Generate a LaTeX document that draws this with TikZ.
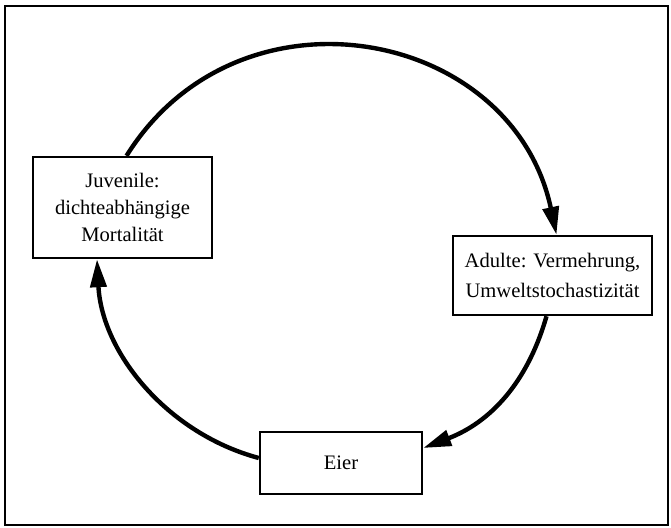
\documentclass[tikz,border=0pt]{standalone}
\usepackage{fontspec}
\setmainfont{Liberation Serif}
\usepackage{tikz}
\usetikzlibrary{arrows.meta}
\tikzstyle{box} = [rectangle, draw=black, line width=1.2pt, align=center,
inner sep=0pt, font=\fontsize{10.3}{13.3}\selectfont]
\tikzstyle{arrow} = [line width=2.2pt, -{Triangle[length=14pt, width=8pt]}]

\begin{document}
\begin{tikzpicture}[x=0.5pt, y=-0.5pt]
    \useasboundingbox (0,0) rectangle (671,527);
    \draw [line width=0.9pt] (5,6) rectangle (668,525); % outer frame

    \node (J) [box, minimum width=89.5pt, minimum height=50.5pt] at
    (122.5,207.5) {Juvenile:\\ dichteabhängige\\ Mortalität}; \node (A) [box,
      minimum width=99.5pt, minimum height=39.5pt] at (552.5,275.5)
    {Adulte: Vermehrung,\\[1.5pt] Umweltstochastizität}; \node (E) [box,
      minimum width=81pt, minimum height=31pt] at (341,463) {Eier};

    \draw [arrow] ([xshift=2pt]J.north) to[out=58, in=102, looseness=1.24]
    ([xshift=2pt]A.north); \draw [arrow] ([xshift=-3pt]A.south) to[out=-106,
      in=21] ([yshift=7.5pt]E.east); \draw [arrow] ([yshift=2.5pt]E.west)
    to[out=165, in=-87, looseness=0.94] ([xshift=-12.75pt]J.south);

\end{tikzpicture}
\end{document}
